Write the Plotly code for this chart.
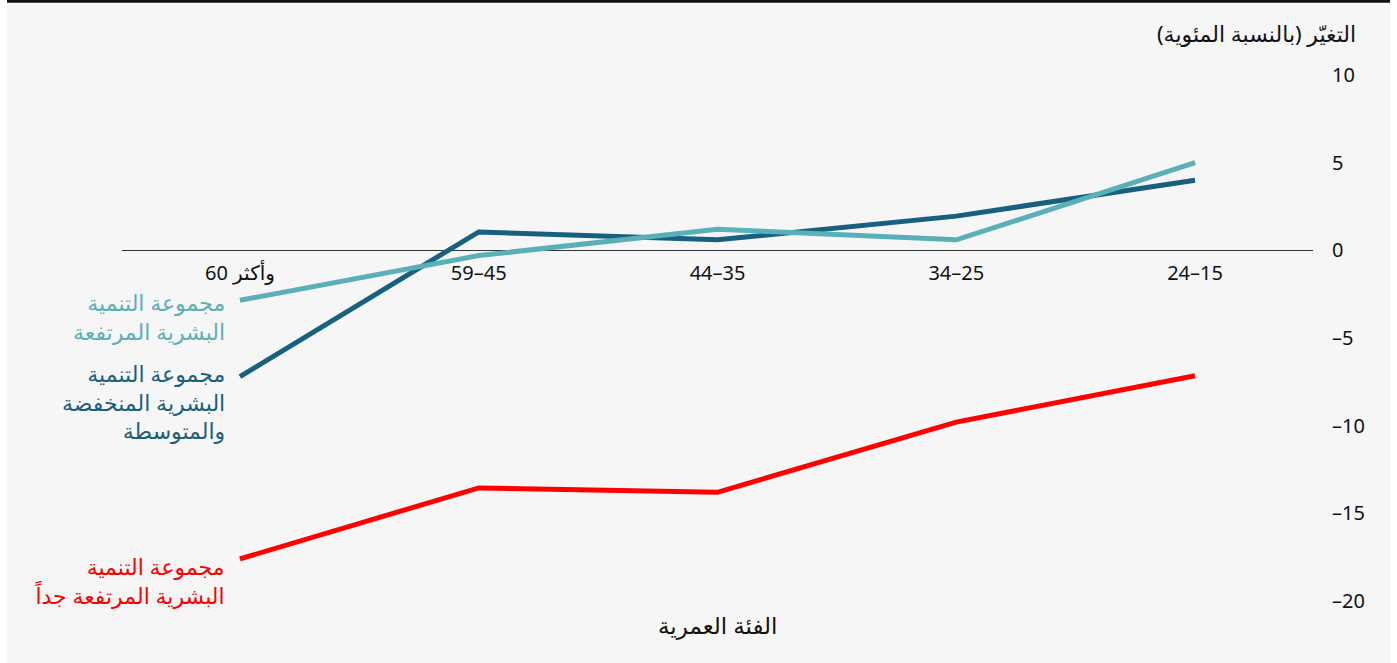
import plotly.graph_objects as go

categories = ["وأكثر 60", "59–45", "44–35", "34–25", "24–15"]
very_high = [-17.6, -13.55, -13.8, -9.8, -7.15]
low_medium = [-7.2, 1.05, 0.6, 1.95, 4.0]
high = [-2.85, -0.3, 1.2, 0.6, 5.0]

series_lines = [
    ["مجموعة التنمية", "البشرية المرتفعة جداً"],
    ["مجموعة التنمية", "البشرية المنخفضة", "والمتوسطة"],
    ["مجموعة التنمية", "البشرية المرتفعة"],
]
colors = ["#ff0000", "#17607f", "#5ab0b9"]
series = [very_high, low_medium, high]

y_ticks = [10, 5, 0, -5, -10, -15, -20]
y_ticktext = ["10", "5", "0", "–5", "–10", "–15", "–20"]

W, H = 1397, 663
L, R, T, B = 122, 84, 75, 62
PW, PH = W - L - R, H - T - B


def px_x(p):
    return (p - L) / PW


def px_y(p):
    return (H - B - p) / PH


fig = go.Figure()
for lines, vals, col in zip(series_lines, series, colors):
    fig.add_trace(go.Scatter(
        x=list(range(len(categories))), y=vals, mode="lines",
        line=dict(color=col, width=5), name=" ".join(lines), showlegend=False,
        hoverinfo="skip",
    ))

font_main = "Noto Sans, DejaVu Sans, sans-serif"

fig.update_layout(
    width=W, height=H,
    margin=dict(l=L, r=R, t=T, b=B),
    paper_bgcolor="white",
    plot_bgcolor="rgba(0,0,0,0)",
    font=dict(family=font_main, size=20, color="#111"),
    xaxis=dict(
        range=[-0.494, 4.494],
        tickmode="array", tickvals=list(range(len(categories))), ticktext=categories,
        showgrid=False, zeroline=False,
        showline=True, linecolor="#333", linewidth=1.3,
        anchor="free", position=20 / 30,
        ticks="outside", ticklen=5, tickcolor="rgba(0,0,0,0)",
        tickfont=dict(size=20, color="#111"),
        layer="below traces",
    ),
    yaxis=dict(
        range=[-20, 10], side="right",
        tickmode="array", tickvals=y_ticks, ticktext=y_ticktext,
        showgrid=False, zeroline=False, showline=False,
        ticks="outside", ticklen=14, tickcolor="rgba(0,0,0,0)",
        tickfont=dict(size=20, color="#111"),
    ),
    shapes=[
        dict(type="rect", xref="paper", yref="paper",
             x0=px_x(7), x1=px_x(1390), y0=px_y(663), y1=px_y(0),
             fillcolor="#f6f6f6", line=dict(width=0), layer="below"),
        dict(type="line", xref="paper", yref="paper",
             x0=px_x(7), x1=px_x(1390), y0=px_y(1.2), y1=px_y(1.2),
             line=dict(color="#111", width=3), layer="above"),
    ],
)

annotations = [
    dict(text="التغيّر (بالنسبة المئوية)", xref="paper", yref="paper",
         x=px_x(1358), y=px_y(33), xanchor="right", yanchor="middle",
         showarrow=False, font=dict(size=22, color="#111")),
    dict(text="الفئة العمرية", xref="paper", yref="paper",
         x=0.5, y=px_y(625), xanchor="center", yanchor="middle",
         showarrow=False, font=dict(size=23, color="#111")),
]
label_y = [580, 401, 316]
for lines, col, ly in zip(series_lines, colors, label_y):
    annotations.append(dict(
        text="<br>".join(lines), xref="paper", yref="paper",
        x=px_x(227), y=px_y(ly),
        xanchor="right", yanchor="middle", align="right", showarrow=False,
        font=dict(size=22, color=col),
    ))
fig.update_layout(annotations=annotations)

fig.write_html("out.html")
